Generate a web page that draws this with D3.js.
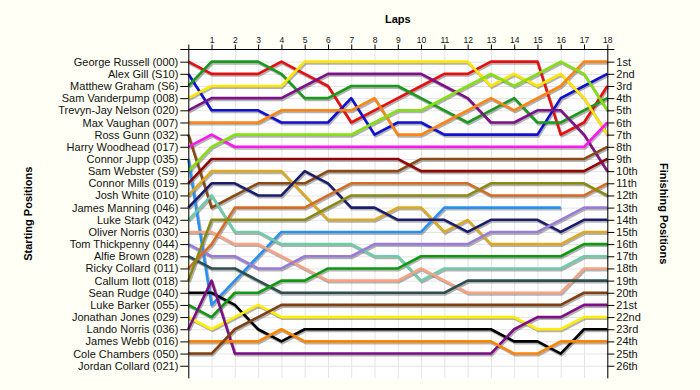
<!DOCTYPE html>
<html>
<head>
<meta charset="utf-8">
<script src="https://cdn.jsdelivr.net/npm/d3@7"></script>
<style>
  body { margin: 0; background: #fffff5; }
  svg { display: block; font-family: Arial, "Liberation Sans", sans-serif; }
  .tick line { stroke: #000; }
  .domain { stroke: #000; }
  .grid line { stroke: #e4e4e4; stroke-width: 1; }
  .axis-title { font-weight: bold; font-size: 11px; fill: #000; }
</style>
</head>
<body>
<div class="svg-wrapper"></div>
<script>
// starting grid order (row 1 = pole)
const drivers = [
  "George Russell (000)", "Alex Gill (S10)", "Matthew Graham (S6)", "Sam Vanderpump (008)",
  "Trevyn-Jay Nelson (020)", "Max Vaughan (007)", "Ross Gunn (032)", "Harry Woodhead (017)",
  "Connor Jupp (035)", "Sam Webster (S9)", "Connor Mills (019)", "Josh White (010)",
  "James Manning (046)", "Luke Stark (042)", "Oliver Norris (030)", "Tom Thickpenny (044)",
  "Alfie Brown (028)", "Ricky Collard (011)", "Callum Ilott (018)", "Sean Rudge (040)",
  "Luke Barker (055)", "Jonathan Jones (029)", "Lando Norris (036)", "James Webb (016)",
  "Cole Chambers (050)", "Jordan Collard (021)"
];

const finishLabels = [
  "1st", "2nd", "3rd", "4th", "5th", "6th", "7th", "8th", "9th", "10th", "11th", "12th", "13th",
  "14th", "15th", "16th", "17th", "18th", "19th", "20th", "21st", "22nd", "23rd", "24th", "25th", "26th"
];

const laps = [0, 1, 2, 3, 4, 5, 6, 7, 8, 9, 10, 11, 12, 13, 14, 15, 16, 17, 18];

// position of each driver at the end of every lap (lap 0 = grid), null = retired / no data
const positions = [
  [1, 2, 2, 2, 1, 2, 3, 6, 5, 4, 3, 2, 2, 1, 1, 1, 7, 6, 3],
  [2, 5, 5, 5, 6, 6, 6, 4, 7, 6, 6, 7, 7, 7, 7, 7, 4, 3, 2],
  [3, 1, 1, 1, 2, 4, 4, 3, 3, 3, 4, 5, 6, 5, 4, 6, 6, 5, 4],
  [4, 3, 3, 3, 3, 1, 1, 1, 1, 1, 1, 1, 1, 3, 2, 3, 2, 4, 7],
  [5, 4, 4, 4, 4, 3, 2, 2, 2, 2, 2, 3, 4, 6, 6, 5, 5, 7, 10],
  [6, 6, 6, 6, 5, 5, 5, 5, 4, 7, 7, 6, 5, 4, 5, 4, 3, 1, 1],
  [7, 13, 12, 11, 11, 11, 10, 10, 10, 10, 9, 9, 9, 9, 9, 9, 9, 9, 8],
  [8, 7, 8, 8, 8, 8, 8, 8, 8, 8, 8, 8, 8, 8, 8, 8, 8, 8, 6],
  [9, 21, 19, 17, 15, 15, 15, 15, 15, 15, 15, 13, 13, 13, 13, 13, 13, null, null],
  [10, 8, 7, 7, 7, 7, 7, 7, 6, 5, 5, 4, 3, 2, 3, 2, 1, 2, 5],
  [11, 9, 9, 9, 9, 9, 9, 9, 9, 9, 10, 10, 10, 10, 10, 10, 10, 10, 9],
  [12, 10, 10, 10, 10, 12, 14, 14, 14, 13, 13, 15, 14, 16, 16, 16, 16, 15, 15],
  [13, 11, 11, 12, 12, 10, 11, 13, 13, 14, 14, 14, 15, 14, 14, 14, 15, 14, 14],
  [14, 12, 15, 15, 16, 16, 16, 16, 17, 17, 19, 18, 18, 18, 18, 18, 18, 17, 17],
  [15, 15, 16, 16, 17, 18, 19, 19, 19, 19, 18, 19, 20, 20, 20, 20, 20, 18, 18],
  [16, 17, 17, 18, 18, 17, 17, 17, 16, 16, 16, 16, 16, 15, 15, 15, 14, 13, 13],
  [17, 18, 18, 19, 20, 20, 20, 20, 20, 20, 20, 20, 19, 19, 19, 19, 19, 19, 19],
  [18, 16, 13, 13, 13, 13, 12, 11, 11, 11, 11, 11, 11, 12, 12, 12, 12, 12, 11],
  [19, 14, 14, 14, 14, 14, 13, 12, 12, 12, 12, 12, 12, 11, 11, 11, 11, 11, 12],
  [20, 20, 21, 23, 24, 23, 23, 23, 23, 23, 23, 23, 23, 23, 24, 24, 25, 23, 23],
  [21, 22, 20, 20, 19, 19, 18, 18, 18, 18, 17, 17, 17, 17, 17, 17, 17, 16, 16],
  [22, 23, 22, 21, 22, 22, 22, 22, 22, 22, 22, 22, 22, 22, 22, 23, 23, 22, 22],
  [23, 19, 25, 25, 25, 25, 25, 25, 25, 25, 25, 25, 25, 25, 23, 22, 22, 21, 21],
  [24, 24, 24, 24, 23, 24, 24, 24, 24, 24, 24, 24, 24, 24, 25, 25, 24, 24, 24],
  [25, 25, 23, 22, 21, 21, 21, 21, 21, 21, 21, 21, 21, 21, 21, 21, 21, 20, 20],
  []
];

const colors = [
  "#e60e0e", "#1010d2", "#1a9a1a", "#ffe600", "#7d1188", "#ff8412", "#8b4a14", "#ff16f0",
  "#2890f2", "#84e010", "#900606", "#dcaa22", "#1c1c6e", "#70cca8", "#f8a282", "#9a7cd8",
  "#2f4f4f", "#d66c22", "#8a8a12", "#000000", "#0e9a0e", "#ffee00", "#7e0e86", "#ff8400",
  "#804010", "#000000"
];

const svg = d3
  .select(".svg-wrapper")
  .append("svg")
  .attr("width", 700)
  .attr("height", 390);

const margin = ({top: 49.5, left: 188.3});
const innerWidth = 419;
const innerHeight = 328.4;

const xScale = d3.scaleLinear()
  .domain([0, 18])
  .range([0, innerWidth]);

const yScale = d3.scaleLinear()
  .domain([0, 27])
  .range([0, innerHeight]);

const g = svg.append("g")
  .attr("transform", `translate(${margin.left},${margin.top})`);

g.append("rect")
  .attr("width", innerWidth)
  .attr("height", innerHeight)
  .attr("fill", "#ffffff");

// grid
const grid = g.append("g").attr("class", "grid");
grid.selectAll(".vgrid")
  .data(laps)
  .enter()
  .append("line")
    .attr("x1", d => xScale(d) + 0.5)
    .attr("x2", d => xScale(d) + 0.5)
    .attr("y1", 0)
    .attr("y2", innerHeight);
grid.selectAll(".hgrid")
  .data(finishLabels.map((d, i) => i + 1))
  .enter()
  .append("line")
    .attr("x1", 0)
    .attr("x2", innerWidth)
    .attr("y1", d => yScale(d) + 0.5)
    .attr("y2", d => yScale(d) + 0.5);

// lines
const lineGenerator = d3.line()
  .defined(d => d != null)
  .x((d, i) => xScale(laps[i]))
  .y(d => yScale(d));

positions.forEach(function(p, i){
  if(!p.length){ return; }
  g.append("path")
    .attr("d", lineGenerator(p))
    .attr("fill", "none")
    .attr("stroke", "#555")
    .attr("stroke-opacity", 0.45)
    .attr("stroke-width", 3)
    .attr("stroke-linejoin", "round")
    .attr("transform", "translate(1,1.5)");
});

positions.forEach(function(p, i){
  if(!p.length){ return; }
  g.append("path")
    .attr("d", lineGenerator(p))
    .attr("fill", "none")
    .attr("stroke", colors[i])
    .attr("stroke-width", 2.6)
    .attr("stroke-linejoin", "round");
});

// axes
const leftAxis = d3.axisLeft(yScale)
  .tickValues(drivers.map((d, i) => i + 1))
  .tickFormat(d => drivers[d - 1])
  .tickSize(8)
  .tickSizeOuter(0)
  .tickPadding(2);

const rightAxis = d3.axisRight(yScale)
  .tickValues(finishLabels.map((d, i) => i + 1))
  .tickFormat(d => finishLabels[d - 1])
  .tickSize(7)
  .tickSizeOuter(0)
  .tickPadding(2);

const topAxis = d3.axisTop(xScale)
  .tickValues(laps)
  .tickFormat(d => d === 0 ? "" : d)
  .tickSize(5)
  .tickSizeOuter(0)
  .tickPadding(2);

const leftAxisG = g.append("g").call(leftAxis);
leftAxisG.selectAll("text").style("font-size", "11px").attr("fill", "#111");

const rightAxisG = g.append("g")
  .attr("transform", `translate(${innerWidth},0)`)
  .call(rightAxis);
rightAxisG.selectAll("text").style("font-size", "11px").attr("fill", "#111");

const topAxisG = g.append("g").call(topAxis);
topAxisG.select(".domain").remove();
topAxisG.selectAll("text").style("font-size", "8.5px").attr("fill", "#111");

g.append("line")
  .attr("x1", -8)
  .attr("x2", innerWidth + 7)
  .attr("y1", 0)
  .attr("y2", 0)
  .attr("stroke", "#000");

// titles
svg.append("text")
  .attr("class", "axis-title")
  .attr("x", margin.left + innerWidth / 2)
  .attr("y", 23)
  .attr("text-anchor", "middle")
  .text("Laps");

svg.append("text")
  .attr("class", "axis-title")
  .attr("transform", `translate(32,${margin.top + innerHeight / 2}) rotate(-90)`)
  .attr("text-anchor", "middle")
  .text("Starting Positions");

svg.append("text")
  .attr("class", "axis-title")
  .attr("transform", `translate(660,${margin.top + innerHeight / 2}) rotate(90)`)
  .attr("text-anchor", "middle")
  .text("Finishing Positions");
</script>
</body>
</html>
